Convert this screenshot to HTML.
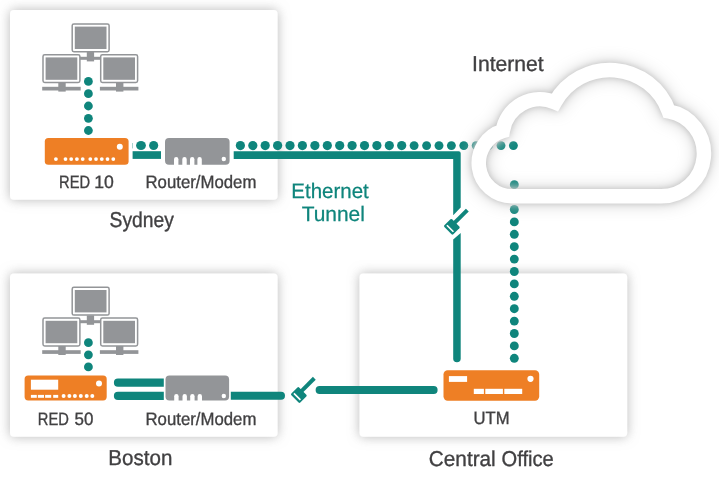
<!DOCTYPE html>
<html lang="en">
<head>
<meta charset="utf-8">
<title>Ethernet Tunnel network diagram</title>
<style>
html,body{margin:0;padding:0;background:#fff;}
body{width:719px;height:478px;overflow:hidden;font-family:"Liberation Sans",sans-serif;}
svg{display:block;will-change:transform;}
text{text-rendering:geometricPrecision;}
</style>
</head>
<body>
<svg width="719" height="478" viewBox="0 0 719 478" font-family="'Liberation Sans', sans-serif">
<defs>
<filter id="bs" filterUnits="userSpaceOnUse" x="0" y="0" width="719" height="478">
<feGaussianBlur in="SourceAlpha" stdDeviation="6"/>
<feOffset dx="0" dy="0.2" result="b"/>
<feFlood flood-color="#909090" flood-opacity="0.64"/>
<feComposite in2="b" operator="in"/>
<feMerge><feMergeNode/><feMergeNode in="SourceGraphic"/></feMerge>
</filter>
<filter id="cs" filterUnits="userSpaceOnUse" x="440" y="30" width="279" height="200">
<feGaussianBlur in="SourceAlpha" stdDeviation="3" result="g1"/>
<feGaussianBlur in="SourceAlpha" stdDeviation="8" result="g2"/>
<feComposite in="g1" in2="g2" operator="arithmetic" k1="0" k2="0.7" k3="0.9" k4="0"/>
<feOffset dx="0.3" dy="0.2" result="b"/>
<feFlood flood-color="#c8c8c8" flood-opacity="1"/>
<feComposite in2="b" operator="in"/>
<feMerge><feMergeNode/><feMergeNode in="SourceGraphic"/></feMerge>
</filter>
</defs>
<rect width="719" height="478" fill="#fff"/>
<g filter="url(#bs)" fill="#fff">
<rect x="10" y="10" width="267.6" height="189.8" rx="4"/>
<rect x="10" y="273.4" width="267.6" height="163.4" rx="4"/>
<rect x="359.5" y="273.4" width="267.7" height="163.4" rx="4"/>
</g>
<g fill="#0f857c">
<ellipse cx="141" cy="145.5" rx="4.9" ry="4.6"/><circle cx="153.65" cy="145.5" r="4.55"/><rect x="132.2" y="143" width="0.6" height="5.4" opacity="0.6"/>
<circle cx="240.4" cy="145.6" r="4.6"/><circle cx="252.8" cy="145.6" r="4.6"/><circle cx="265.2" cy="145.6" r="4.6"/><circle cx="277.6" cy="145.6" r="4.6"/><circle cx="290.0" cy="145.6" r="4.6"/><circle cx="302.4" cy="145.6" r="4.6"/><circle cx="314.9" cy="145.6" r="4.6"/><circle cx="327.3" cy="145.6" r="4.6"/><circle cx="339.7" cy="145.6" r="4.6"/><circle cx="352.1" cy="145.6" r="4.6"/><circle cx="364.5" cy="145.6" r="4.6"/><circle cx="376.9" cy="145.6" r="4.6"/><circle cx="389.3" cy="145.6" r="4.6"/><circle cx="401.7" cy="145.6" r="4.6"/><circle cx="414.1" cy="145.6" r="4.45"/><circle cx="426.6" cy="145.6" r="4.45"/><circle cx="439.0" cy="145.6" r="4.45"/><circle cx="451.4" cy="145.6" r="4.45"/><circle cx="463.8" cy="145.6" r="4.45"/><circle cx="476.2" cy="145.6" r="4.45"/><circle cx="488.6" cy="145.6" r="4.45"/><circle cx="501.0" cy="145.6" r="4.45"/><circle cx="513.4" cy="145.6" r="4.45"/>
<circle cx="514.3" cy="184.7" r="4.45"/><circle cx="514.3" cy="197.1" r="4.45"/><circle cx="514.3" cy="209.5" r="4.45"/><circle cx="514.3" cy="221.9" r="4.45"/><circle cx="514.3" cy="234.3" r="4.45"/><circle cx="514.3" cy="246.7" r="4.45"/><circle cx="514.3" cy="259.1" r="4.45"/><circle cx="514.3" cy="271.5" r="4.45"/><circle cx="514.3" cy="283.9" r="4.45"/><circle cx="514.3" cy="296.3" r="4.45"/><circle cx="514.3" cy="308.7" r="4.45"/><circle cx="514.3" cy="321.1" r="4.45"/><circle cx="514.3" cy="333.5" r="4.45"/><circle cx="514.3" cy="345.9" r="4.45"/><circle cx="514.3" cy="358.3" r="4.45"/>
</g>
<path d="M512.00 196.25A33.25 33.25 0 0 1 502.72 131.07A37.75 37.75 0 0 1 554.90 102.31A62.75 62.75 0 0 1 668.84 111.44A42.75 42.75 0 0 1 661.20 196.25Z" fill="none" stroke="#fff" stroke-width="14.5" stroke-linejoin="miter" stroke-miterlimit="10" filter="url(#cs)"/>
<g fill="#0f857c">
<circle cx="88.4" cy="81.4" r="4.4"/><circle cx="88.4" cy="93.7" r="4.4"/><circle cx="88.4" cy="106.0" r="4.4"/><circle cx="88.4" cy="118.3" r="4.4"/><circle cx="88.4" cy="130.5" r="4.4"/>
<circle cx="88.4" cy="342.7" r="4.4"/><circle cx="88.4" cy="354.8" r="4.4"/><circle cx="88.4" cy="366.9" r="4.4"/>
<rect x="132.6" y="151.2" width="28.4" height="7.7"/>
<path d="M233.7 151.2H458.7a2 2 0 0 1 2 2V207.4L453.2 215.3V158.9H233.7Z"/>
<path d="M453.2 239.5L460.7 232.9V358.6a3.75 3.75 0 0 1 -7.5 0Z"/>
<path d="M118 378.6H163.8V386.8H118a4.1 4.1 0 0 1 0 -8.2Z"/>
<path d="M118 391.8H163.8V400H118a4.1 4.1 0 0 1 0 -8.2Z"/>
<path d="M230.8 391.8H281a4 4 0 0 1 0 8H230.8Z"/>
<rect x="315.6" y="386" width="122" height="8" rx="4"/>
</g>
<g transform="translate(452.05 226.6) rotate(-45)">
<rect x="4" y="-2.9" width="18.5" height="4" fill="#0f857c"/>
<rect x="-5.75" y="-6.3" width="10.95" height="12.6" rx="1.2" fill="#0f857c"/>
<rect x="-3.5" y="-4.6" width="1.65" height="9.2" fill="#fff"/>
</g>
<g transform="translate(299.05 394.8) rotate(-45)">
<rect x="4" y="-2.9" width="18.5" height="4" fill="#0f857c"/>
<rect x="-5.75" y="-6.3" width="10.95" height="12.6" rx="1.2" fill="#0f857c"/>
<rect x="-3.5" y="-4.6" width="1.65" height="9.2" fill="#fff"/>
</g>
<rect x="86.8" y="52.0" width="7.3" height="9.4" fill="#939598"/>
<rect x="78" y="56.8" width="24" height="3" fill="#939598"/>
<rect x="72.2" y="23.9" width="36.9" height="27.8" rx="1.7" fill="#fff" stroke="#939598" stroke-width="1.5"/><rect x="74.8" y="26.6" width="31.7" height="22.4" fill="#939598"/>
<rect x="58.3" y="82.0" width="7.4" height="9.6" fill="#939598"/>
<rect x="42.2" y="86.8" width="38.5" height="3.7" fill="#939598"/>
<rect x="43.0" y="54.7" width="36.9" height="27.8" rx="1.7" fill="#fff" stroke="#939598" stroke-width="1.5"/><rect x="45.6" y="57.4" width="31.7" height="22.4" fill="#939598"/>
<rect x="116.0" y="82.0" width="7.4" height="9.6" fill="#939598"/>
<rect x="99.9" y="86.8" width="38.5" height="3.7" fill="#939598"/>
<rect x="100.7" y="54.7" width="36.9" height="27.8" rx="1.7" fill="#fff" stroke="#939598" stroke-width="1.5"/><rect x="103.3" y="57.4" width="31.7" height="22.4" fill="#939598"/>
<rect x="86.8" y="315.4" width="7.3" height="9.4" fill="#939598"/>
<rect x="78" y="320.2" width="24" height="3" fill="#939598"/>
<rect x="72.2" y="287.3" width="36.9" height="27.8" rx="1.7" fill="#fff" stroke="#939598" stroke-width="1.5"/><rect x="74.8" y="290.0" width="31.7" height="22.4" fill="#939598"/>
<rect x="58.3" y="345.4" width="7.4" height="9.6" fill="#939598"/>
<rect x="42.2" y="350.2" width="38.5" height="3.7" fill="#939598"/>
<rect x="43.0" y="318.1" width="36.9" height="27.8" rx="1.7" fill="#fff" stroke="#939598" stroke-width="1.5"/><rect x="45.6" y="320.8" width="31.7" height="22.4" fill="#939598"/>
<rect x="116.0" y="345.4" width="7.4" height="9.6" fill="#939598"/>
<rect x="99.9" y="350.2" width="38.5" height="3.7" fill="#939598"/>
<rect x="100.7" y="318.1" width="36.9" height="27.8" rx="1.7" fill="#fff" stroke="#939598" stroke-width="1.5"/><rect x="103.3" y="320.8" width="31.7" height="22.4" fill="#939598"/>
<!-- RED 10 -->
<rect x="44.8" y="138" width="83.8" height="26.8" rx="3.6" fill="#ee7f25"/>
<g fill="#fff">
<circle cx="119.8" cy="146.7" r="3"/>
<circle cx="55.9" cy="159.1" r="1.9"/><circle cx="65.5" cy="159.1" r="1.9"/><circle cx="71.2" cy="159.1" r="1.9"/><circle cx="76.9" cy="159.1" r="1.9"/><circle cx="82.7" cy="159.1" r="1.9"/><circle cx="90.3" cy="159.1" r="1.9"/><circle cx="96" cy="159.1" r="1.9"/><circle cx="101.8" cy="159.1" r="1.9"/><circle cx="107.5" cy="159.1" r="1.9"/><circle cx="113.3" cy="159.1" r="1.9"/>
</g>
<!-- Routers -->
<g id="r1">
<rect x="165" y="138" width="64.6" height="26.8" rx="4" fill="#939598"/>
<g fill="#fff">
<circle cx="223.8" cy="159" r="2.2"/>
<path d="M174 165V159.2a2.2 2.2 0 0 1 4.4 0V165Z"/><path d="M182.3 165V159.2a2.2 2.2 0 0 1 4.4 0V165Z"/><path d="M190 165V159.2a2.2 2.2 0 0 1 4.4 0V165Z"/><path d="M197.4 165V159.2a2.2 2.2 0 0 1 4.4 0V165Z"/>
</g>
</g>
<g transform="translate(0.2 237)">
<rect x="165.3" y="138.4" width="63.6" height="25.2" rx="4" fill="#939598"/>
<g fill="#fff">
<circle cx="223.6" cy="159" r="2.2"/>
<path d="M174 164V159.2a2.2 2.2 0 0 1 4.4 0V164Z"/><path d="M182.3 164V159.2a2.2 2.2 0 0 1 4.4 0V164Z"/><path d="M190 164V159.2a2.2 2.2 0 0 1 4.4 0V164Z"/><path d="M197.4 164V159.2a2.2 2.2 0 0 1 4.4 0V164Z"/>
</g>
</g>
<!-- RED 50 -->
<rect x="24.6" y="375.5" width="82.1" height="24.9" rx="3.6" fill="#ee7f25"/>
<g fill="#fff">
<rect x="30.9" y="379.7" width="27.3" height="10"/>
<rect x="30.9" y="394.9" width="5.9" height="2.9"/>
<rect x="37.9" y="394.9" width="6.1" height="2.9"/>
<rect x="45.1" y="394.9" width="6.1" height="2.9"/>
<rect x="53.2" y="394.9" width="5" height="2.9"/>
<circle cx="99" cy="383.6" r="3"/>
<circle cx="63.6" cy="395.9" r="2"/><circle cx="69.4" cy="395.9" r="2"/><circle cx="74.9" cy="395.9" r="2"/><circle cx="80.8" cy="395.9" r="2"/><circle cx="86.7" cy="395.9" r="2"/><circle cx="92.3" cy="395.9" r="2"/>
</g>
<!-- UTM -->
<rect x="443.5" y="370.2" width="95.7" height="30.5" rx="4.2" fill="#ee7f25"/>
<g fill="#fff">
<rect x="448.9" y="376.1" width="18.2" height="5.8"/>
<rect x="473.8" y="388.8" width="10.1" height="5.2"/>
<rect x="485.3" y="388.8" width="17.6" height="5.2"/>
<rect x="504.3" y="388.8" width="17.9" height="5.2"/>
<circle cx="530.5" cy="378.8" r="3.1"/>
</g>
<!-- labels -->
<text y="188" font-size="17.9" fill="#414042" stroke="#414042" stroke-width="0.35"><tspan x="59.10" textLength="31.02" lengthAdjust="spacingAndGlyphs">RED</tspan> <tspan x="94.25" textLength="19.61" lengthAdjust="spacingAndGlyphs">10</tspan></text>
<text y="188" font-size="17.9" fill="#414042" stroke="#414042" stroke-width="0.35"><tspan x="145.53" textLength="110.85" lengthAdjust="spacingAndGlyphs">Router/Modem</tspan></text>
<text y="425" font-size="17.9" fill="#414042" stroke="#414042" stroke-width="0.35"><tspan x="37.80" textLength="31.12" lengthAdjust="spacingAndGlyphs">RED</tspan> <tspan x="74.60" textLength="18.84" lengthAdjust="spacingAndGlyphs">50</tspan></text>
<text y="425" font-size="17.9" fill="#414042" stroke="#414042" stroke-width="0.35"><tspan x="145.53" textLength="110.85" lengthAdjust="spacingAndGlyphs">Router/Modem</tspan></text>
<text y="424" font-size="17.9" fill="#414042" stroke="#414042" stroke-width="0.35"><tspan x="473.53" textLength="35.99" lengthAdjust="spacingAndGlyphs">UTM</tspan></text>
<text y="227" font-size="21.5" fill="#414042" stroke="#414042" stroke-width="0.35"><tspan x="109.61" textLength="64.32" lengthAdjust="spacingAndGlyphs">Sydney</tspan></text>
<text y="465" font-size="21.5" fill="#414042" stroke="#414042" stroke-width="0.35"><tspan x="108.33" textLength="64.05" lengthAdjust="spacingAndGlyphs">Boston</tspan></text>
<text y="466" font-size="21.5" fill="#414042" stroke="#414042" stroke-width="0.35"><tspan x="428.84" textLength="66.88" lengthAdjust="spacingAndGlyphs">Central</tspan> <tspan x="501.57" textLength="52.18" lengthAdjust="spacingAndGlyphs">Office</tspan></text>
<text y="71" font-size="21.5" fill="#414042" stroke="#414042" stroke-width="0.35"><tspan x="472.07" textLength="71.61" lengthAdjust="spacingAndGlyphs">Internet</tspan></text>
<text y="198" font-size="20.9" fill="#0f857c" stroke="#0f857c" stroke-width="0.25"><tspan x="291.29" textLength="77.45" lengthAdjust="spacingAndGlyphs">Ethernet</tspan></text>
<text y="221" font-size="20.9" fill="#0f857c" stroke="#0f857c" stroke-width="0.25"><tspan x="301.71" textLength="63.17" lengthAdjust="spacingAndGlyphs">Tunnel</tspan></text>
</svg>
</body>
</html>
